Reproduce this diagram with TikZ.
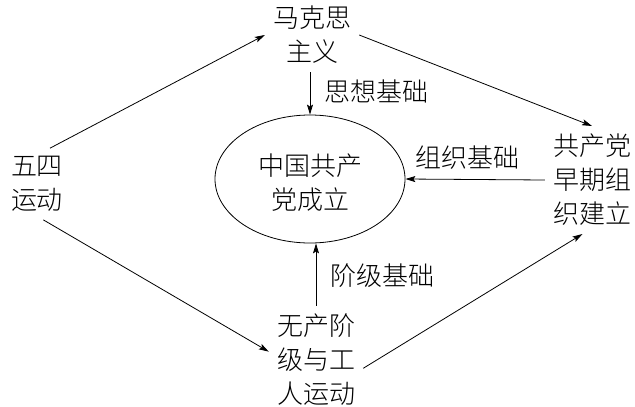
\documentclass[tikz,border=0pt]{standalone}
\usepackage{fontspec}
\newfontfamily\cjk{Noto Sans CJK SC}[UprightFont={* Light}]
\usetikzlibrary{arrows.meta,shapes.geometric}
\begin{document}
\begin{tikzpicture}[x=1pt,y=-1pt,
  every node/.style={font=\cjk\fontsize{26}{34}\selectfont},
  txt/.style={align=center,inner sep=8pt},
  lbl/.style={inner sep=0pt},
  arr/.style={line width=0.8pt,-{Stealth[length=10pt,width=6pt,inset=2pt]}},
  ell/.style={ellipse,draw,line width=0.8pt,minimum width=190pt,minimum height=128pt,inner sep=0pt,align=center}]
\useasboundingbox (0,0) rectangle (635,407);
\node[txt] (makesi) at (312,35) {马克思\\主义};
\node[txt] (wusi) at (37,184) {五四\\运动};
\node[txt] (gongchan) at (592,180) {共产党\\早期组\\织建立};
\node[txt] (wuchan) at (316,360) {无产阶\\级与工\\人运动};
\node[ell] (zhong) at (310,179) {};
\node[align=center,inner sep=0pt] (zhongtxt) at (310,183) {中国共产\\党成立};
\node[lbl] (sixiang) at (376,91) {思想基础};
\node[lbl] (zuzhi) at (467,158) {组织基础};
\node[lbl] (jieji) at (382,276) {阶级基础};
\draw[arr] (wusi.70) -- (makesi.west);
\draw[arr] (wusi.-80) -- (wuchan.170);
\draw[arr] (makesi.east) -- (gongchan.north);
\draw[arr] (wuchan.-10) -- (gongchan.-100);
\draw[arr] (makesi.south -| zhong.north) -- (zhong.north);
\draw[arr] (gongchan.west) -- (zhong.east);
\draw[arr] (wuchan.north) -- (wuchan.north |- zhong.south);
\end{tikzpicture}
\end{document}
